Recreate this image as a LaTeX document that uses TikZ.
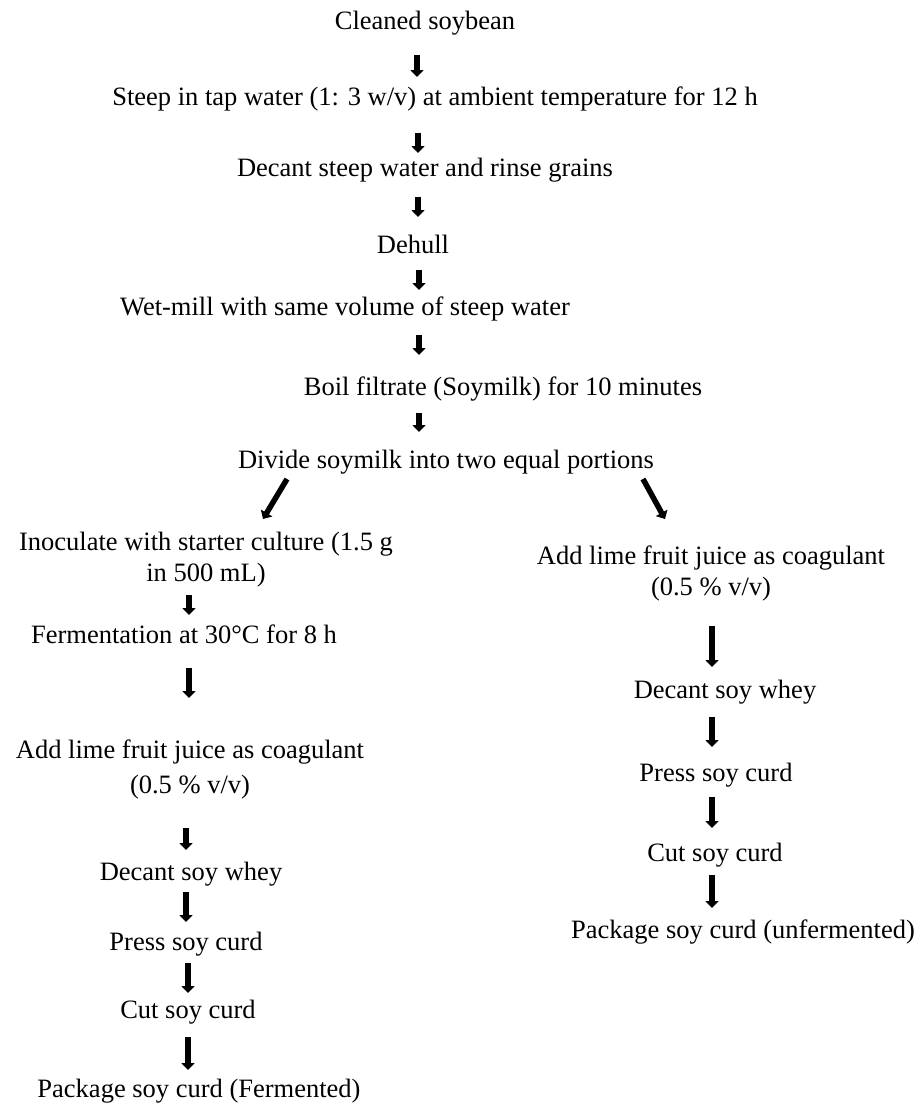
\documentclass[tikz,border=0pt]{standalone}
\usepackage{fontspec}
\setmainfont{Liberation Serif}
\usetikzlibrary{arrows.meta}
\begin{document}
\begin{tikzpicture}[x=1pt,y=-1pt,
  lbl/.style={inner sep=0pt, align=center, text height=18pt, text depth=6pt, font=\fontsize{26.5}{31}\selectfont},
  flow/.style={line width=5.5pt, -{Triangle[width=13pt,length=7pt]}}]
\useasboundingbox (0,0) rectangle (917,1103);
% main trunk
\node[lbl] (n1) at (425,23) {Cleaned soybean};
\node[lbl] (n2) at (435,99) {Steep in tap water (1: 3 w/v) at ambient temperature for 12 h};
\node[lbl] (n3) at (425,170) {Decant steep water and rinse grains};
\node[lbl] (n4) at (413,247) {Dehull};
\node[lbl] (n5) at (345,309) {Wet-mill with same volume of steep water};
\node[lbl] (n6) at (503,389) {Boil filtrate (Soymilk) for 10 minutes};
\node[lbl] (n7) at (446,462) {Divide soymilk into two equal portions};
% left branch
\node[lbl] (l1) at (206,575) {Inoculate with starter culture (1.5 g\\in 500 mL)};
\node[lbl] (l2) at (184,637) {Fermentation at 30°C for 8 h};
\node[lbl] (l3) at (190,787) {Add lime fruit juice as coagulant\\[4pt](0.5 \% v/v)};
\node[lbl] (l4) at (191,874) {Decant soy whey};
\node[lbl] (l5) at (186,944) {Press soy curd};
\node[lbl] (l6) at (188,1012) {Cut soy curd};
\node[lbl] (l7) at (199,1091) {Package soy curd (Fermented)};
% right branch
\node[lbl] (r1) at (711,589) {Add lime fruit juice as coagulant\\(0.5 \% v/v)};
\node[lbl] (r2) at (725,692) {Decant soy whey};
\node[lbl] (r3) at (716,775) {Press soy curd};
\node[lbl] (r4) at (715,855) {Cut soy curd};
\node[lbl] (r5) at (743,932) {Package soy curd (unfermented)};
% arrow end points
\coordinate (a1s) at (417,55);  \coordinate (a1e) at (417,77);
\coordinate (a2s) at (418,133); \coordinate (a2e) at (418,153);
\coordinate (a3s) at (418,197); \coordinate (a3e) at (418,217);
\coordinate (a4s) at (419,270); \coordinate (a4e) at (419,290);
\coordinate (a5s) at (419,335); \coordinate (a5e) at (419,355);
\coordinate (a6s) at (419,413); \coordinate (a6e) at (419,432);
\coordinate (dls) at (287,479); \coordinate (dle) at (263,519);
\coordinate (drs) at (643,479); \coordinate (dre) at (665,519);
\coordinate (la1s) at (189,595); \coordinate (la1e) at (189,615);
\coordinate (la2s) at (189,668); \coordinate (la2e) at (189,698);
\coordinate (la3s) at (186,828); \coordinate (la3e) at (186,850);
\coordinate (la4s) at (186,892); \coordinate (la4e) at (186,922);
\coordinate (la5s) at (188,963); \coordinate (la5e) at (188,993);
\coordinate (la6s) at (188,1037); \coordinate (la6e) at (188,1070);
\coordinate (ra1s) at (712,626); \coordinate (ra1e) at (712,667);
\coordinate (ra2s) at (712,717); \coordinate (ra2e) at (712,747);
\coordinate (ra3s) at (712,797); \coordinate (ra3e) at (712,828);
\coordinate (ra4s) at (712,875); \coordinate (ra4e) at (712,908);
\foreach \a in {a1,a2,a3,a4,a5,a6,dl,dr,la1,la2,la3,la4,la5,la6,ra1,ra2,ra3,ra4}
  \draw[flow] (\a s) -- (\a e);
\end{tikzpicture}
\end{document}
